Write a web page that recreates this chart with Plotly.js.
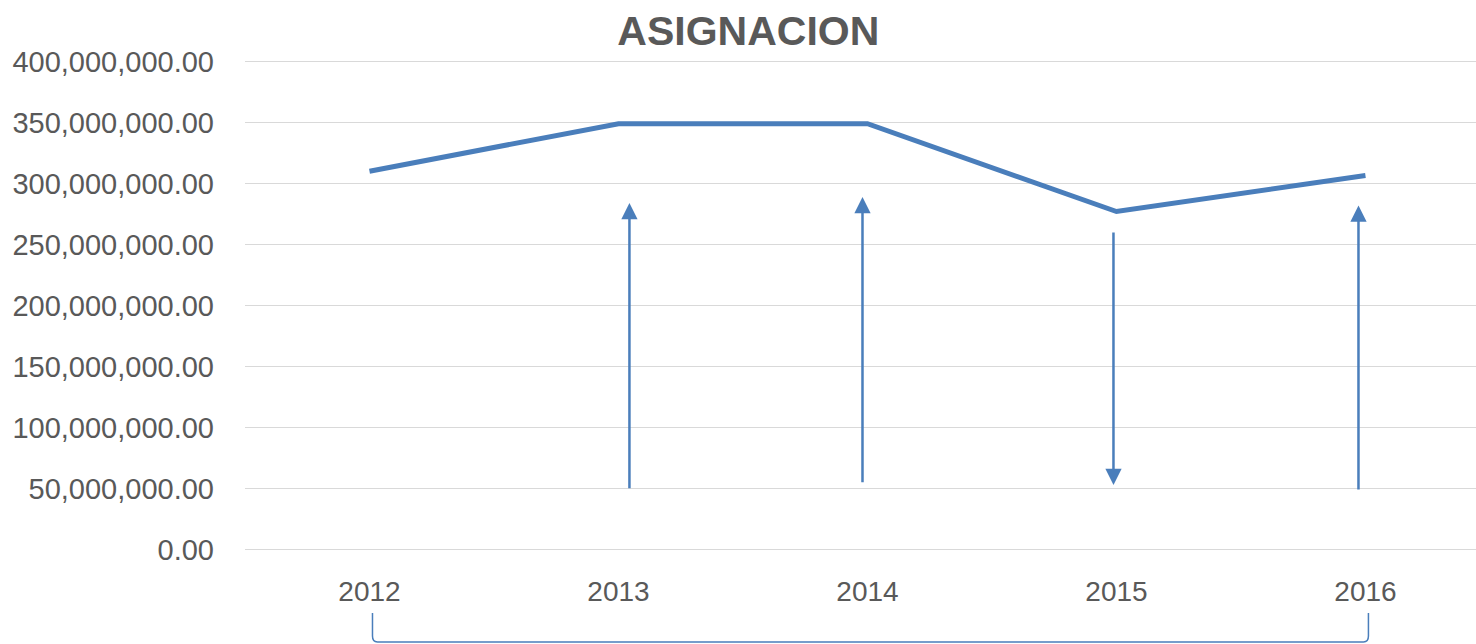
<!DOCTYPE html>
<html>
<head>
<meta charset="utf-8">
<script src="https://cdn.plot.ly/plotly-3.0.1.min.js"></script>
<style>html,body{margin:0;padding:0;background:#fff;}#chart{width:1476px;height:644px;}</style>
</head>
<body>
<div id="chart"></div>
<script>
const years = ["2012", "2013", "2014", "2015", "2016"];
const asignacion = [310000000, 349000000, 349000000, 277000000, 306500000];
const yTicks = [0, 50000000, 100000000, 150000000, 200000000, 250000000, 300000000, 350000000, 400000000];
// decorative arrows: [category position, tail value, tip value]
const arrowPos = [1.044, 1.98, 2.988, 3.972];
const arrowTail = [49000000, 54000000, 261000000, 48000000];
const arrowTip = [284000000, 289000000, 53000000, 282000000];

const blue = "#4a7ebb";
const xr = [-0.5, 4.444];

const annotations = arrowPos.map((p, i) => ({
  x: p, y: arrowTip[i], ax: p, ay: arrowTail[i],
  xref: "x", yref: "y", axref: "x", ayref: "y",
  text: "", showarrow: true, arrowhead: 2, arrowsize: 1.3, arrowwidth: 2.5,
  arrowcolor: blue, standoff: 0, startstandoff: 0
}));

const yr = [-2000000, 402000000];
function px(i) { return (i - xr[0]) / (xr[1] - xr[0]); }
function py(pix) { return (552 - pix) / 493; }
const bx0 = px(0.012), bx1 = px(4.012);
const by0 = py(613), by1 = py(642);
const d = 0.004, dy = 0.012;
const path = `M ${bx0},${by0} L ${bx0},${by1 + dy} Q ${bx0},${by1} ${bx0 + d},${by1} L ${bx1 - d},${by1} Q ${bx1},${by1} ${bx1},${by1 + dy} L ${bx1},${by0}`;

const trace = {
  x: years, y: asignacion, type: "scatter", mode: "lines",
  line: { color: blue, width: 5 }, hoverinfo: "skip"
};

const layout = {
  width: 1476, height: 644,
  margin: { l: 245, r: 0, t: 59, b: 92 },
  paper_bgcolor: "#fff", plot_bgcolor: "#fff",
  showlegend: false,
  title: {
    text: "<b>ASIGNACION</b>",
    x: 0.507, xanchor: "center", y: 0.953, yanchor: "middle",
    font: { family: "Liberation Sans, Arial, sans-serif", size: 41, color: "#595959" }
  },
  xaxis: {
    type: "category", range: xr,
    showgrid: false, zeroline: false, showline: false, ticks: "",
    ticklabelstandoff: 20,
    tickfont: { family: "Liberation Sans, Arial, sans-serif", size: 28, color: "#595959" }
  },
  yaxis: {
    range: yr, tickvals: yTicks, tickformat: ",.2f",
    showgrid: true, gridcolor: "#d9d9d9", gridwidth: 1.5,
    zeroline: false, showline: false, ticks: "",
    ticklabelstandoff: 30,
    tickfont: { family: "Liberation Sans, Arial, sans-serif", size: 29, color: "#595959" }
  },
  annotations: annotations,
  shapes: [{
    type: "path", xref: "paper", yref: "paper", path: path,
    line: { color: blue, width: 1.5 }
  }]
};

Plotly.newPlot("chart", [trace], layout, { displayModeBar: false, staticPlot: true });
</script>
</body>
</html>
